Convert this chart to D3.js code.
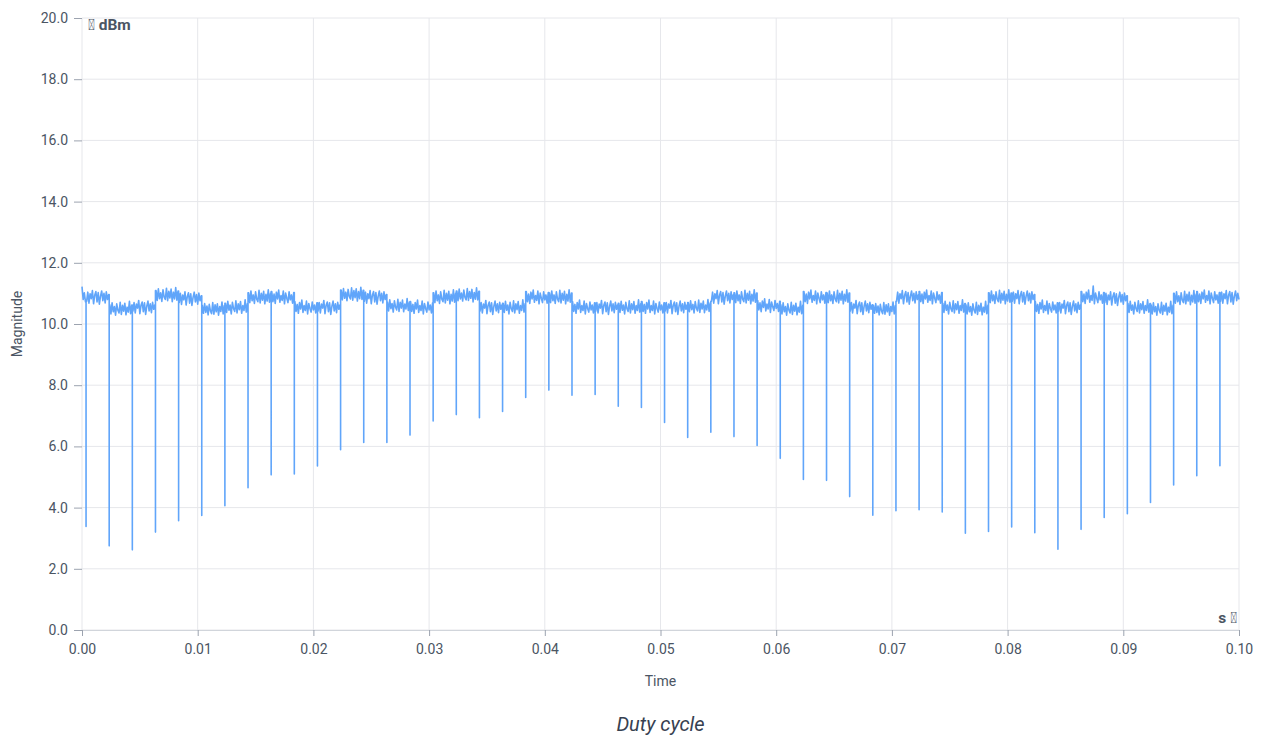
<!DOCTYPE html>
<html>
<head>
<meta charset="utf-8">
<script src="https://cdn.jsdelivr.net/npm/d3@7"></script>
<style>
  body { margin: 0; background: #fff; font-family: Roboto, "Noto Sans", sans-serif; }
</style>
</head>
<body>
<script>
// sampled trace, one value every sampleStep seconds (0 .. 0.1 s)
const sampleStep = 0.0001;
const magnitude = [
  11.22, 10.80, 11.02, 10.72,
  10.74, 11.04, 10.68, 10.99, 10.83, 11.09, 10.66, 10.94, 11.06, 10.72, 11.03, 10.65, 10.91, 11.08, 10.76, 11.00, 10.69, 11.05, 10.80, 10.96,
  10.63, 10.33, 10.69, 10.40, 10.57, 10.29, 10.66, 10.45, 10.36, 10.71, 10.31, 10.61, 10.42, 10.68, 10.30, 10.55, 10.39, 10.74, 10.34, 10.62,
  10.42, 10.70, 10.36, 10.65, 10.52, 10.77, 10.34, 10.61, 10.72, 10.40, 10.69, 10.31, 10.58, 10.75, 10.43, 10.66, 10.37, 10.71, 10.48, 10.63,
  11.09, 10.77, 11.15, 10.83, 11.02, 10.74, 11.12, 10.88, 10.80, 11.17, 10.76, 11.07, 10.85, 11.14, 10.73, 11.04, 10.82, 11.19, 10.78, 11.08,
  10.70, 11.00, 10.64, 10.95, 10.79, 11.05, 10.62, 10.90, 11.02, 10.68, 10.99, 10.61, 10.87, 11.04, 10.72, 10.96, 10.65, 11.01, 10.76, 10.92,
  10.61, 10.35, 10.67, 10.38, 10.59, 10.30, 10.64, 10.43, 10.34, 10.70, 10.32, 10.63, 10.40, 10.66, 10.29, 10.57, 10.41, 10.72, 10.33, 10.60,
  10.68, 10.38, 10.74, 10.45, 10.62, 10.33, 10.71, 10.50, 10.41, 10.76, 10.36, 10.66, 10.47, 10.73, 10.35, 10.60, 10.44, 10.79, 10.39, 10.67,
  11.02, 10.70, 11.08, 10.76, 10.95, 10.67, 11.05, 10.81, 10.73, 11.10, 10.69, 11.00, 10.78, 11.07, 10.66, 10.97, 10.75, 11.12, 10.71, 11.01,
  11.06, 10.73, 10.98, 10.67, 11.04, 10.82, 11.11, 10.71, 10.93, 10.77, 11.08, 10.66, 11.01, 10.84, 10.70, 11.05, 10.79, 10.95, 10.68, 11.03,
  10.73, 10.41, 10.64, 10.35, 10.70, 10.49, 10.78, 10.38, 10.60, 10.44, 10.75, 10.33, 10.67, 10.51, 10.39, 10.72, 10.46, 10.62, 10.36, 10.69,
  10.42, 10.70, 10.36, 10.65, 10.52, 10.77, 10.34, 10.61, 10.72, 10.40, 10.69, 10.31, 10.58, 10.75, 10.43, 10.66, 10.37, 10.71, 10.48, 10.63,
  11.11, 10.79, 11.16, 10.84, 11.04, 10.76, 11.13, 10.90, 10.82, 11.18, 10.78, 11.09, 10.86, 11.15, 10.75, 11.06, 10.83, 11.20, 10.80, 11.10,
  10.74, 11.04, 10.68, 10.99, 10.83, 11.09, 10.66, 10.94, 11.06, 10.72, 11.03, 10.65, 10.91, 11.08, 10.76, 11.00, 10.69, 11.05, 10.80, 10.96,
  10.72, 10.43, 10.79, 10.50, 10.67, 10.39, 10.76, 10.55, 10.46, 10.81, 10.41, 10.71, 10.52, 10.78, 10.40, 10.65, 10.49, 10.83, 10.44, 10.72,
  10.73, 10.41, 10.64, 10.35, 10.70, 10.49, 10.78, 10.38, 10.60, 10.44, 10.75, 10.33, 10.67, 10.51, 10.39, 10.72, 10.46, 10.62, 10.36, 10.69,
  11.02, 10.70, 11.08, 10.76, 10.95, 10.67, 11.05, 10.81, 10.73, 11.10, 10.69, 11.00, 10.78, 11.07, 10.66, 10.97, 10.75, 11.12, 10.71, 11.01,
  11.08, 10.76, 11.14, 10.82, 11.01, 10.75, 11.11, 10.87, 10.79, 11.16, 10.77, 11.06, 10.84, 11.13, 10.72, 11.03, 10.81, 11.18, 10.79, 11.07,
  10.42, 10.70, 10.36, 10.65, 10.52, 10.77, 10.34, 10.61, 10.72, 10.40, 10.69, 10.31, 10.58, 10.75, 10.43, 10.66, 10.37, 10.71, 10.48, 10.63,
  10.68, 10.38, 10.74, 10.45, 10.62, 10.33, 10.71, 10.50, 10.41, 10.76, 10.36, 10.66, 10.47, 10.73, 10.35, 10.60, 10.44, 10.79, 10.39, 10.67,
  11.06, 10.73, 10.98, 10.67, 11.04, 10.82, 11.11, 10.71, 10.93, 10.77, 11.08, 10.66, 11.01, 10.84, 10.70, 11.05, 10.79, 10.95, 10.68, 11.03,
  11.02, 10.70, 11.08, 10.76, 10.95, 10.67, 11.05, 10.81, 10.73, 11.10, 10.69, 11.00, 10.78, 11.07, 10.66, 10.97, 10.75, 11.12, 10.71, 11.01,
  10.73, 10.41, 10.64, 10.35, 10.70, 10.49, 10.78, 10.38, 10.60, 10.44, 10.75, 10.33, 10.67, 10.51, 10.39, 10.72, 10.46, 10.62, 10.36, 10.69,
  10.42, 10.70, 10.36, 10.65, 10.52, 10.77, 10.34, 10.61, 10.72, 10.40, 10.69, 10.31, 10.58, 10.75, 10.43, 10.66, 10.37, 10.71, 10.48, 10.63,
  10.68, 10.38, 10.74, 10.45, 10.62, 10.33, 10.71, 10.50, 10.41, 10.76, 10.36, 10.66, 10.47, 10.73, 10.35, 10.60, 10.44, 10.79, 10.39, 10.67,
  10.73, 10.41, 10.64, 10.35, 10.70, 10.49, 10.78, 10.38, 10.60, 10.44, 10.75, 10.33, 10.67, 10.51, 10.39, 10.72, 10.46, 10.62, 10.36, 10.69,
  10.42, 10.70, 10.36, 10.65, 10.52, 10.77, 10.34, 10.61, 10.72, 10.40, 10.69, 10.31, 10.58, 10.75, 10.43, 10.66, 10.37, 10.71, 10.48, 10.63,
  10.70, 10.40, 10.76, 10.47, 10.64, 10.36, 10.73, 10.52, 10.43, 10.78, 10.38, 10.68, 10.49, 10.75, 10.37, 10.62, 10.46, 10.80, 10.41, 10.69,
  10.74, 11.04, 10.68, 10.99, 10.83, 11.09, 10.66, 10.94, 11.06, 10.72, 11.03, 10.65, 10.91, 11.08, 10.76, 11.00, 10.69, 11.05, 10.80, 10.96,
  11.02, 10.70, 11.08, 10.76, 10.95, 10.67, 11.05, 10.81, 10.73, 11.10, 10.69, 11.00, 10.78, 11.07, 10.66, 10.97, 10.75, 11.12, 10.71, 11.01,
  10.77, 10.46, 10.69, 10.40, 10.75, 10.54, 10.82, 10.43, 10.65, 10.49, 10.80, 10.38, 10.72, 10.56, 10.44, 10.77, 10.51, 10.67, 10.41, 10.74,
  10.63, 10.33, 10.69, 10.40, 10.57, 10.29, 10.66, 10.45, 10.36, 10.71, 10.31, 10.61, 10.42, 10.68, 10.30, 10.55, 10.39, 10.74, 10.34, 10.62,
  11.06, 10.73, 10.98, 10.67, 11.04, 10.82, 11.11, 10.71, 10.93, 10.77, 11.08, 10.66, 11.01, 10.84, 10.70, 11.05, 10.79, 10.95, 10.68, 11.03,
  11.02, 10.70, 11.08, 10.76, 10.95, 10.67, 11.05, 10.81, 10.73, 11.10, 10.69, 11.00, 10.78, 11.07, 10.66, 10.97, 10.75, 11.12, 10.71, 11.01,
  10.42, 10.70, 10.36, 10.65, 10.52, 10.77, 10.34, 10.61, 10.72, 10.40, 10.69, 10.31, 10.58, 10.75, 10.43, 10.66, 10.37, 10.71, 10.48, 10.63,
  10.61, 10.35, 10.67, 10.38, 10.59, 10.30, 10.64, 10.43, 10.34, 10.70, 10.32, 10.63, 10.40, 10.66, 10.29, 10.57, 10.41, 10.72, 10.33, 10.60,
  10.74, 11.04, 10.68, 10.99, 10.83, 11.09, 10.66, 10.94, 11.06, 10.72, 11.03, 10.65, 10.91, 11.08, 10.76, 11.00, 10.69, 11.05, 10.80, 10.96,
  11.06, 10.73, 10.98, 10.67, 11.04, 10.82, 11.11, 10.71, 10.93, 10.77, 11.08, 10.66, 11.01, 10.84, 10.70, 11.05, 10.79, 10.95, 10.68, 11.03,
  10.68, 10.38, 10.74, 10.45, 10.62, 10.33, 10.71, 10.50, 10.41, 10.76, 10.36, 10.66, 10.47, 10.73, 10.35, 10.60, 10.44, 10.79, 10.39, 10.67,
  10.63, 10.33, 10.69, 10.40, 10.57, 10.29, 10.66, 10.45, 10.36, 10.71, 10.31, 10.61, 10.42, 10.68, 10.30, 10.55, 10.39, 10.74, 10.34, 10.62,
  11.02, 10.70, 11.08, 10.76, 10.95, 10.67, 11.05, 10.81, 10.73, 11.10, 10.69, 11.00, 10.78, 11.07, 10.66, 10.97, 10.75, 11.12, 10.71, 11.01,
  10.74, 11.04, 10.68, 10.99, 10.83, 11.09, 10.66, 10.94, 11.06, 10.72, 11.03, 10.65, 10.91, 11.08, 10.76, 11.00, 10.69, 11.05, 10.80, 10.96,
  10.73, 10.41, 10.64, 10.35, 10.70, 10.49, 10.78, 10.38, 10.60, 10.44, 10.75, 10.33, 10.67, 10.51, 10.39, 10.72, 10.46, 10.62, 10.36, 10.69,
  10.42, 10.70, 10.36, 10.65, 10.52, 10.77, 10.34, 10.61, 10.72, 10.40, 10.69, 10.31, 10.58, 10.75, 10.43, 10.66, 10.37, 10.71, 10.48, 10.63,
  11.06, 10.73, 10.98, 10.67, 11.04, 10.82, 11.11, 10.71, 10.93, 10.77, 11.24, 10.66, 11.01, 10.84, 10.70, 11.05, 10.79, 10.95, 10.68, 11.03,
  10.70, 11.00, 10.64, 10.95, 10.79, 11.05, 10.62, 10.90, 11.02, 10.68, 10.99, 10.61, 10.87, 11.04, 10.72, 10.96, 10.65, 11.01, 10.76, 10.92,
  10.68, 10.38, 10.74, 10.45, 10.62, 10.33, 10.71, 10.50, 10.41, 10.76, 10.36, 10.66, 10.47, 10.73, 10.35, 10.60, 10.44, 10.79, 10.39, 10.67,
  10.63, 10.33, 10.69, 10.40, 10.57, 10.29, 10.66, 10.45, 10.36, 10.71, 10.31, 10.61, 10.42, 10.68, 10.30, 10.55, 10.39, 10.74, 10.34, 10.62,
  11.00, 10.68, 11.05, 10.73, 10.92, 10.64, 11.02, 10.78, 10.70, 11.07, 10.66, 10.97, 10.75, 11.04, 10.63, 10.94, 10.72, 11.09, 10.68, 10.98,
  11.06, 10.73, 10.98, 10.67, 11.04, 10.82, 11.11, 10.71, 10.93, 10.77, 11.08, 10.66, 11.01, 10.84, 10.70, 11.05, 10.79, 10.95, 10.68, 11.03,
  10.74, 11.04, 10.68, 10.99, 10.83, 11.09, 10.66, 10.94, 11.06, 10.72, 11.03, 10.65, 10.91, 11.08, 10.76, 11.00, 10.80
];

// the short drops of the duty cycle
const dipTimes = [
  0.00035, 0.00235, 0.00435, 0.00635, 0.00835, 0.01035, 0.01235, 0.01435, 0.01635, 0.01835,
  0.02035, 0.02235, 0.02435, 0.02635, 0.02835, 0.03035, 0.03235, 0.03435, 0.03635, 0.03835,
  0.04035, 0.04235, 0.04435, 0.04635, 0.04835, 0.05035, 0.05235, 0.05435, 0.05635, 0.05835,
  0.06035, 0.06235, 0.06435, 0.06635, 0.06835, 0.07035, 0.07235, 0.07435, 0.07635, 0.07835,
  0.08035, 0.08235, 0.08435, 0.08635, 0.08835, 0.09035, 0.09235, 0.09435, 0.09635, 0.09835
];
const dipValues = [
  3.38, 2.75, 2.62, 3.20, 3.57, 3.74, 4.06, 4.65, 5.07, 5.10,
  5.36, 5.89, 6.13, 6.13, 6.37, 6.83, 7.04, 6.94, 7.14, 7.60,
  7.84, 7.67, 7.70, 7.31, 7.27, 6.78, 6.29, 6.46, 6.32, 6.03,
  5.61, 4.92, 4.89, 4.36, 3.75, 3.90, 3.93, 3.86, 3.16, 3.22,
  3.37, 3.18, 2.64, 3.29, 3.68, 3.80, 4.17, 4.74, 5.04, 5.37
];

const xTicks = [0, 0.01, 0.02, 0.03, 0.04, 0.05, 0.06, 0.07, 0.08, 0.09, 0.1];
const yTicks = [0, 2, 4, 6, 8, 10, 12, 14, 16, 18, 20];

const W = 1263, H = 736;
const margin = { top: 18, right: 24, bottom: 106, left: 82 };
const width = W - margin.left - margin.right;
const height = H - margin.top - margin.bottom;

const svg = d3.select('body')
  .append('svg')
  .attr('width', W)
  .attr('height', H);

const g = svg.append('g')
  .attr('transform', `translate(${margin.left},${margin.top})`);

const xScale = d3.scaleLinear().domain([0, 0.1]).range([0, width]);
const yScale = d3.scaleLinear().domain([0, 20]).range([height, 0]);

// grid
g.append('g')
  .selectAll('line')
  .data(yTicks)
  .enter()
  .append('line')
  .attr('x1', 0)
  .attr('x2', width)
  .attr('y1', d => yScale(d))
  .attr('y2', d => yScale(d))
  .attr('stroke', '#e6e7eb')
  .attr('stroke-width', 1);

g.append('g')
  .selectAll('line')
  .data(xTicks)
  .enter()
  .append('line')
  .attr('x1', d => xScale(d))
  .attr('x2', d => xScale(d))
  .attr('y1', 0)
  .attr('y2', height)
  .attr('stroke', '#e6e7eb')
  .attr('stroke-width', 1);

// axes
const xAxis = d3.axisBottom(xScale)
  .tickValues(xTicks)
  .tickFormat(d3.format('.2f'))
  .tickSize(6)
  .tickPadding(8);

const yAxis = d3.axisLeft(yScale)
  .tickValues(yTicks)
  .tickFormat(d3.format('.1f'))
  .tickSize(8)
  .tickPadding(6);

const gx = g.append('g')
  .attr('transform', `translate(0,${height})`)
  .call(xAxis);
gx.select('.domain').attr('stroke', '#d1d5db');
gx.selectAll('.tick line').attr('stroke', '#9ca3af');
gx.selectAll('.tick text')
  .attr('fill', '#4b5563')
  .style('font-family', 'Roboto, sans-serif')
  .style('font-size', '14px');

const gy = g.append('g').call(yAxis);
gy.select('.domain').remove();
gy.selectAll('.tick line').attr('stroke', '#9ca3af');
gy.selectAll('.tick text')
  .attr('fill', '#4b5563')
  .style('font-family', 'Roboto, sans-serif')
  .style('font-size', '14px');

// build the trace: samples plus vertical drops
const points = [];
magnitude.forEach((v, i) => {
  const t = i * sampleStep;
  points.push({ t: t, v: v });
  if (i + 1 < magnitude.length) {
    dipTimes.forEach((dt, k) => {
      if (dt > t && dt <= t + sampleStep) {
        points.push({ t: dt, v: v });
        points.push({ t: dt, v: dipValues[k] });
        points.push({ t: dt, v: magnitude[i + 1] });
      }
    });
  }
});

const line = d3.line()
  .x(d => xScale(d.t))
  .y(d => yScale(d.v));

g.append('path')
  .datum(points)
  .attr('fill', 'none')
  .attr('stroke', '#60a5fa')
  .attr('stroke-width', 1.6)
  .attr('stroke-linejoin', 'round')
  .attr('d', line);

// unit labels
g.append('text')
  .attr('x', 6)
  .attr('y', 12)
  .attr('fill', '#4b5563')
  .style('font-size', '15.5px')
  .style('font-weight', 'bold')
  .text('\uE000 dBm');

g.append('text')
  .attr('x', width - 2)
  .attr('y', height - 7)
  .attr('text-anchor', 'end')
  .attr('fill', '#4b5563')
  .style('font-size', '15.5px')
  .style('font-weight', 'bold')
  .text('s \uE000');

// axis titles
svg.append('text')
  .attr('x', margin.left + width / 2)
  .attr('y', 686)
  .attr('text-anchor', 'middle')
  .attr('fill', '#4b5563')
  .style('font-size', '14px')
  .text('Time');

svg.append('text')
  .attr('transform', `translate(22,${margin.top + height / 2}) rotate(-90)`)
  .attr('text-anchor', 'middle')
  .attr('fill', '#4b5563')
  .style('font-size', '14px')
  .text('Magnitude');

svg.append('text')
  .attr('x', margin.left + width / 2)
  .attr('y', 731)
  .attr('text-anchor', 'middle')
  .attr('fill', '#374151')
  .style('font-size', '20px')
  .style('font-style', 'italic')
  .text('Duty cycle');
</script>
</body>
</html>
